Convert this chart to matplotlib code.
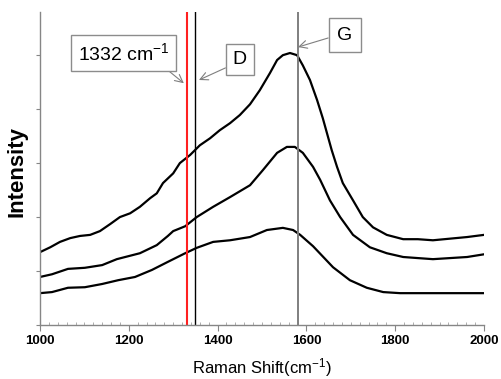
import matplotlib
matplotlib.use("Agg")
import matplotlib.pyplot as plt
from matplotlib.ticker import MultipleLocator

plt.rcParams['font.family'] = ['Liberation Sans', 'DejaVu Sans']
plt.rcParams['mathtext.default'] = 'regular'

# Top spectrum
x_top = [1000, 1023, 1045, 1068, 1090, 1113, 1135, 1158, 1180, 1203, 1225, 1248, 1263,
         1277, 1300, 1315, 1338, 1360, 1383, 1405, 1428, 1450, 1473, 1495, 1518, 1534,
         1547, 1563, 1579, 1592, 1608, 1624, 1637, 1657, 1669, 1682, 1705, 1727, 1750,
         1781, 1818, 1851, 1885, 1962, 2000]
y_top = [1.35, 1.44, 1.54, 1.61, 1.65, 1.67, 1.74, 1.87, 2.00, 2.07, 2.19, 2.35, 2.44,
         2.63, 2.81, 3.00, 3.15, 3.33, 3.46, 3.61, 3.74, 3.89, 4.09, 4.35, 4.67, 4.91,
         5.00, 5.04, 5.00, 4.81, 4.54, 4.17, 3.83, 3.24, 2.93, 2.63, 2.31, 2.00, 1.81,
         1.67, 1.59, 1.59, 1.57, 1.63, 1.67]

# Middle spectrum
x_mid = [1000, 1027, 1063, 1101, 1140, 1173, 1225, 1263, 1288, 1300, 1327, 1353, 1390,
         1428, 1473, 1502, 1534, 1556, 1574, 1592, 1615, 1631, 1653, 1676, 1705, 1743,
         1781, 1818, 1851, 1885, 1962, 2000]
y_mid = [0.89, 0.94, 1.04, 1.06, 1.11, 1.22, 1.33, 1.48, 1.65, 1.74, 1.83, 2.00, 2.19,
         2.37, 2.59, 2.87, 3.19, 3.30, 3.30, 3.19, 2.93, 2.69, 2.31, 2.00, 1.67, 1.44,
         1.33, 1.26, 1.24, 1.22, 1.26, 1.31]

# Bottom spectrum
x_bot = [1000, 1027, 1063, 1101, 1140, 1176, 1214, 1252, 1288, 1327, 1353, 1390, 1428,
         1473, 1511, 1547, 1570, 1586, 1615, 1660, 1698, 1736, 1773, 1811, 1885, 2000]
y_bot = [0.59, 0.61, 0.69, 0.70, 0.76, 0.83, 0.89, 1.02, 1.17, 1.33, 1.43, 1.54, 1.57,
         1.63, 1.76, 1.80, 1.76, 1.67, 1.46, 1.07, 0.83, 0.69, 0.61, 0.59, 0.59, 0.59]

# Reference lines
line_diamond = 1332
line_D = 1350
line_G = 1580

x_ticks = [1000, 1200, 1400, 1600, 1800, 2000]

fig = plt.figure(figsize=(5.02, 3.79), dpi=100)
ax = fig.add_axes([40/502, 54/379, 444/502, 313/379])

for xs, ys in [(x_top, y_top), (x_mid, y_mid), (x_bot, y_bot)]:
    ax.plot(xs, ys, color='black', lw=1.6, solid_joinstyle='round')

ax.axvline(line_diamond, color='#ff2020', lw=1.5)
ax.axvline(line_D, color='black', lw=1.0)
ax.axvline(line_G, color='#7f7f7f', lw=1.4)

ax.set_xlim(1000, 2000)
ax.set_ylim(0, 5.8)
ax.set_xticks(x_ticks)
ax.xaxis.set_minor_locator(MultipleLocator(20))
ax.set_yticks([0, 1, 2, 3, 4, 5])
ax.set_yticklabels([])

for s in ['top', 'right']:
    ax.spines[s].set_visible(False)
for s in ['left', 'bottom']:
    ax.spines[s].set_color('#868686')
    ax.spines[s].set_linewidth(1.0)

ax.tick_params(axis='x', which='major', direction='out', length=4, color='#868686',
               labelsize=9.5, pad=3)
ax.tick_params(axis='x', which='minor', direction='in', length=2.5, color='#a0a0a0')
ax.tick_params(axis='y', which='major', direction='out', length=3, color='#868686')
for lab in ax.get_xticklabels():
    lab.set_fontweight('bold')

ax.set_xlabel('Raman Shift(cm$^{-1}$)', fontsize=12, va='center')
ax.xaxis.set_label_coords(0.5, -0.135)
ax.set_ylabel('Intensity', fontsize=16, fontweight='bold', va='center')
ax.yaxis.set_label_coords(-0.052, 0.49)

box = dict(boxstyle='square,pad=0.35', fc='white', ec='#8c8c8c', lw=1.0)
arrow = dict(arrowstyle='->', color='#7f7f7f', lw=0.8, shrinkA=0, shrinkB=0)

ax.annotate('1332 cm$^{-1}$', xy=(1324, 4.48), xytext=(1188, 5.04), fontsize=14,
            ha='center', va='center', bbox=box,
            arrowprops=dict(arrow, relpos=(0.9, 0.0)))
ax.annotate('D', xy=(1358, 4.54), xytext=(1450, 4.92), fontsize=14,
            ha='center', va='center', bbox=dict(box, boxstyle='square,pad=0.35'),
            arrowprops=dict(arrow, relpos=(0.0, 0.2)))
ax.annotate('G', xy=(1581, 5.15), xytext=(1687, 5.37), fontsize=14,
            ha='center', va='center', bbox=dict(box, boxstyle='square,pad=0.45'),
            arrowprops=dict(arrow, relpos=(0.0, 0.5)))

fig.savefig('out.png', dpi=100)
